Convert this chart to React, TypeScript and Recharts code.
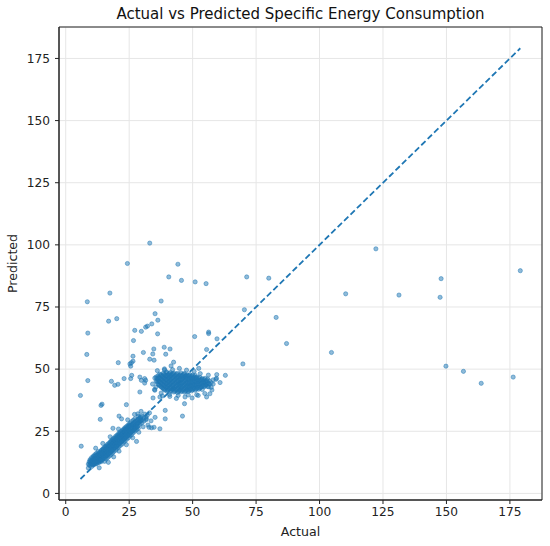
import React from "react";
import {
  ScatterChart,
  Scatter,
  XAxis,
  YAxis,
  CartesianGrid,
  ReferenceLine,
  ReferenceArea,
} from "recharts";

// [actual, predicted] pairs
const outlierPoints: [number, number][] = [
  [80.0, 86.6], [82.9, 70.8], [87.0, 60.3], [104.7, 56.7], [110.3, 80.3], [122.2, 98.4],
  [131.3, 79.8], [147.9, 86.4], [147.5, 78.9], [149.8, 51.2], [156.7, 49.1], [163.7, 44.3],
  [176.3, 46.8], [179.1, 89.6],
  [33.1, 100.7], [24.3, 92.5], [44.2, 92.2], [40.6, 87.1], [45.6, 85.7], [51.0, 85.1],
  [55.3, 84.4], [71.3, 87.1], [17.4, 80.6], [8.5, 77.1], [37.6, 77.4], [70.4, 73.9],
  [35.2, 72.3], [20.1, 70.3], [16.9, 69.3], [36.3, 69.7], [33.9, 68.2], [32.2, 67.3],
  [31.5, 66.9], [29.8, 65.2], [27.2, 65.6], [36.2, 64.2], [8.7, 64.5], [56.3, 64.9],
  [56.3, 64.3], [26.7, 61.5], [50.8, 63.1], [59.6, 62.2], [38.8, 58.8], [34.7, 58.1],
  [41.1, 58.1], [30.6, 56.7], [34.3, 56.1], [39.4, 56.0], [55.5, 57.9], [8.3, 55.9],
  [26.5, 55.2], [33.1, 54.0], [34.8, 53.6], [20.7, 52.6], [26.5, 53.2], [25.3, 52.1],
  [25.6, 51.2], [25.9, 52.6], [42.5, 52.8], [41.5, 51.3], [69.8, 52.1], [52.4, 50.3],
  [38.9, 49.7],
  [5.8, 39.4], [8.7, 45.4], [6.1, 19.0], [13.6, 29.8], [13.9, 35.4], [14.3, 35.9],
  [18.0, 45.1], [19.3, 43.5], [20.6, 43.9], [23.0, 46.2], [23.9, 35.7], [21.0, 31.1],
  [22.0, 30.0], [18.6, 26.2], [25.6, 46.2], [26.0, 47.5], [29.2, 40.8], [29.8, 45.5],
  [31.5, 45.5], [28.4, 32.0], [32.1, 31.4], [32.8, 26.6], [34.8, 26.6], [37.1, 26.0],
  [27.9, 20.9], [34.4, 38.4], [39.2, 33.4], [39.2, 30.0], [38.1, 39.2], [46.0, 31.1],
  [46.8, 36.1], [39.7, 48.9],
  [62.9, 47.5], [59.5, 47.8], [59.2, 45.9], [29.2, 46.8], [31.1, 46.2], [31.1, 44.4],
  [35.1, 46.4], [35.5, 42.8], [35.1, 41.5], [37.1, 38.8], [41.0, 39.0], [47.0, 38.8],
  [52.2, 39.4], [55.5, 38.8], [56.8, 40.1], [33.8, 26.4], [31.8, 30.0],
];

const lowBandPoints: [number, number][] = [
  [8.9, 10.2], [8.9, 11.8],
  [9.6, 12.5], [9.6, 11.1], [9.6, 13.6],
  [10.2, 11.9], [10.2, 13.0], [10.2, 14.4], [10.2, 10.8],
  [10.9, 12.3], [10.9, 13.8], [10.9, 11.4], [10.9, 15.0],
  [11.5, 12.9], [11.5, 14.2], [11.5, 11.8], [11.5, 15.6], [11.5, 13.4],
  [12.1, 12.2], [12.1, 13.5], [12.1, 14.8], [12.1, 16.1], [12.1, 11.9],
  [12.8, 13.1], [12.8, 14.3], [12.8, 15.7], [12.8, 12.6], [12.8, 16.8],
  [13.4, 13.8], [13.4, 15.0], [13.4, 16.4], [13.4, 12.9], [13.4, 14.2],
  [14.0, 14.5], [14.0, 15.9], [14.0, 13.2], [14.0, 17.3], [14.0, 12.8], [14.0, 16.5],
  [14.7, 15.2], [14.7, 16.6], [14.7, 13.9], [14.7, 18.0], [14.7, 14.8],
  [15.3, 15.8], [15.3, 14.1], [15.3, 17.2], [15.3, 12.9], [15.3, 18.6], [15.3, 16.3],
  [15.9, 16.4], [15.9, 14.9], [15.9, 17.9], [15.9, 13.8], [15.9, 19.1],
  [16.5, 16.9], [16.5, 15.5], [16.5, 18.4], [16.5, 14.4], [16.5, 19.8], [16.5, 17.6],
  [17.2, 17.5], [17.2, 16.1], [17.2, 19.0], [17.2, 15.0], [17.2, 20.3],
  [17.8, 18.2], [17.8, 16.8], [17.8, 19.7], [17.8, 15.6], [17.8, 21.1], [17.8, 17.9],
  [18.4, 18.8], [18.4, 17.3], [18.4, 20.4], [18.4, 16.2], [18.4, 21.7],
  [19.0, 19.4], [19.0, 18.0], [19.0, 21.0], [19.0, 16.9], [19.0, 22.3], [19.0, 20.1],
  [19.7, 20.1], [19.7, 18.6], [19.7, 21.6], [19.7, 17.4], [19.7, 23.0],
  [20.3, 20.7], [20.3, 19.2], [20.3, 22.3], [20.3, 18.1], [20.3, 23.5], [20.3, 21.4],
  [20.9, 21.3], [20.9, 19.9], [20.9, 22.8], [20.9, 18.7], [20.9, 24.2],
  [21.5, 21.8], [21.5, 20.5], [21.5, 23.4], [21.5, 19.3], [21.5, 24.8], [21.5, 22.2],
  [22.2, 22.5], [22.2, 21.1], [22.2, 24.0], [22.2, 19.8], [22.2, 25.3],
  [22.8, 23.1], [22.8, 21.7], [22.8, 24.6], [22.8, 20.6], [22.8, 25.9], [22.8, 22.6],
  [23.4, 23.7], [23.4, 22.3], [23.4, 25.2], [23.4, 21.1], [23.4, 26.5],
  [24.0, 24.3], [24.0, 22.9], [24.0, 25.8], [24.0, 21.8], [24.0, 27.0], [24.0, 24.9],
  [24.7, 24.9], [24.7, 23.5], [24.7, 26.4], [24.7, 22.4], [24.7, 27.6],
  [25.3, 25.5], [25.3, 24.1], [25.3, 27.0], [25.3, 23.1], [25.3, 28.2],
  [25.9, 26.1], [25.9, 24.8], [25.9, 27.5], [25.9, 23.6], [25.9, 28.9],
  [26.6, 26.7], [26.6, 25.3], [26.6, 28.1], [26.6, 24.4], [26.6, 29.4],
  [27.2, 27.3], [27.2, 26.0], [27.2, 28.6], [27.2, 25.0], [27.2, 30.0],
  [27.9, 27.8], [27.9, 26.6], [27.9, 29.2], [27.9, 25.7],
  [28.6, 28.4], [28.6, 27.2], [28.6, 29.8], [28.6, 26.2], [28.6, 31.0],
  [29.3, 29.0], [29.3, 27.9], [29.3, 30.4],
  [30.0, 29.6], [30.0, 28.4], [30.0, 31.1],
  [30.8, 30.2], [30.8, 29.1],
  [31.6, 30.7], [31.6, 29.6],
  [11.8, 18.2], [13.2, 10.3], [16.8, 12.5], [18.9, 14.7], [21.0, 17.0], [23.9, 19.6],
  [26.4, 22.4], [28.8, 24.6], [30.5, 26.8], [32.4, 27.5], [33.6, 29.2], [14.6, 20.1],
  [17.5, 22.8], [20.8, 25.9], [24.4, 29.6], [27.1, 31.8], [29.7, 33.0], [31.2, 31.9],
  [33.0, 32.4], [35.2, 30.6],
];

const lowBandInnerPoints: [number, number][] = [
  [9.3, 11.5], [9.3, 12.8],
  [9.9, 12.0], [9.9, 13.3],
  [10.6, 11.6], [10.6, 12.9], [10.6, 14.1],
  [11.2, 12.1], [11.2, 13.6], [11.2, 14.8],
  [11.8, 12.6], [11.8, 13.9], [11.8, 15.2],
  [12.4, 12.9], [12.4, 14.2], [12.4, 15.4], [12.4, 13.0],
  [13.1, 13.5], [13.1, 14.7], [13.1, 16.0], [13.1, 12.4],
  [13.7, 14.1], [13.7, 15.4], [13.7, 16.8], [13.7, 13.5],
  [14.4, 14.8], [14.4, 16.1], [14.4, 17.5], [14.4, 13.6],
  [15.0, 15.4], [15.0, 16.8], [15.0, 14.5], [15.0, 17.8],
  [15.6, 16.0], [15.6, 17.4], [15.6, 15.2], [15.6, 18.4],
  [16.2, 16.6], [16.2, 18.0], [16.2, 15.4], [16.2, 19.1],
  [16.9, 17.2], [16.9, 18.7], [16.9, 16.0], [16.9, 19.4],
  [17.5, 17.8], [17.5, 19.2], [17.5, 16.5], [17.5, 20.5],
  [18.1, 18.4], [18.1, 19.9], [18.1, 17.1], [18.1, 20.9],
  [18.7, 19.1], [18.7, 20.6], [18.7, 17.8], [18.7, 21.5],
  [19.4, 19.7], [19.4, 21.2], [19.4, 18.4], [19.4, 22.2],
  [20.0, 20.3], [20.0, 21.8], [20.0, 19.0], [20.0, 22.7],
  [20.6, 20.9], [20.6, 22.4], [20.6, 19.6], [20.6, 23.3],
  [21.2, 21.5], [21.2, 22.9], [21.2, 20.2], [21.2, 24.0],
  [21.9, 22.1], [21.9, 23.6], [21.9, 20.8], [21.9, 24.5],
  [22.5, 22.7], [22.5, 24.2], [22.5, 21.4], [22.5, 25.1],
  [23.1, 23.3], [23.1, 24.8], [23.1, 22.0], [23.1, 25.7],
  [23.7, 23.9], [23.7, 25.4], [23.7, 22.6], [23.7, 26.2],
  [24.4, 24.5], [24.4, 26.0], [24.4, 23.2], [24.4, 26.8],
  [25.0, 25.1], [25.0, 26.6], [25.0, 23.8], [25.0, 27.4],
  [25.6, 25.7], [25.6, 27.2], [25.6, 24.5],
  [26.2, 26.3], [26.2, 27.8], [26.2, 25.0],
  [26.9, 26.9], [26.9, 28.3], [26.9, 25.6],
  [27.5, 27.5], [27.5, 28.9], [27.5, 26.3],
  [28.2, 28.1], [28.2, 29.5], [28.2, 26.9],
  [28.9, 28.7], [28.9, 30.1],
  [29.6, 29.3], [29.6, 30.7],
];

const midClusterPoints: [number, number][] = [
  [35.6, 45.2], [35.6, 46.8],
  [36.3, 44.1], [36.3, 45.8], [36.3, 47.3],
  [37.0, 43.5], [37.0, 45.0], [37.0, 46.5], [37.0, 48.0],
  [37.7, 42.8], [37.7, 44.4], [37.7, 45.9], [37.7, 47.4],
  [38.4, 42.2], [38.4, 43.7], [38.4, 45.3], [38.4, 46.8], [38.4, 48.3],
  [39.1, 41.6], [39.1, 43.1], [39.1, 44.6], [39.1, 46.1], [39.1, 47.6],
  [39.8, 42.4], [39.8, 43.9], [39.8, 45.5], [39.8, 47.0], [39.8, 48.5], [39.8, 41.2],
  [40.5, 41.8], [40.5, 43.3], [40.5, 44.8], [40.5, 46.3], [40.5, 47.8],
  [41.2, 41.0], [41.2, 42.6], [41.2, 44.1], [41.2, 45.7], [41.2, 47.2], [41.2, 48.6],
  [41.9, 41.9], [41.9, 43.4], [41.9, 44.9], [41.9, 46.5], [41.9, 48.0],
  [42.6, 40.8], [42.6, 42.3], [42.6, 43.8], [42.6, 45.3], [42.6, 46.9], [42.6, 48.4],
  [43.3, 41.5], [43.3, 43.0], [43.3, 44.5], [43.3, 46.1], [43.3, 47.6],
  [44.0, 40.6], [44.0, 42.1], [44.0, 43.7], [44.0, 45.2], [44.0, 46.7], [44.0, 48.3],
  [44.7, 41.3], [44.7, 42.8], [44.7, 44.3], [44.7, 45.9], [44.7, 47.4],
  [45.4, 40.9], [45.4, 42.4], [45.4, 43.9], [45.4, 45.5], [45.4, 47.0], [45.4, 48.5],
  [46.1, 41.6], [46.1, 43.1], [46.1, 44.6], [46.1, 46.2], [46.1, 47.7],
  [46.8, 40.7], [46.8, 42.2], [46.8, 43.7], [46.8, 45.3], [46.8, 46.8], [46.8, 48.2],
  [47.5, 41.4], [47.5, 42.9], [47.5, 44.4], [47.5, 45.9], [47.5, 47.4],
  [48.2, 41.0], [48.2, 42.5], [48.2, 44.0], [48.2, 45.6], [48.2, 47.1],
  [48.9, 41.7], [48.9, 43.2], [48.9, 44.7], [48.9, 46.3], [48.9, 47.8],
  [49.6, 41.3], [49.6, 42.8], [49.6, 44.3], [49.6, 45.8], [49.6, 47.2],
  [50.3, 42.0], [50.3, 43.5], [50.3, 45.0], [50.3, 46.5],
  [51.0, 41.5], [51.0, 43.0], [51.0, 44.6], [51.0, 46.1], [51.0, 47.5],
  [51.7, 42.3], [51.7, 43.8], [51.7, 45.3], [51.7, 46.8],
  [52.4, 41.9], [52.4, 43.4], [52.4, 44.9], [52.4, 46.3],
  [53.1, 42.6], [53.1, 44.1], [53.1, 45.6],
  [53.8, 43.2], [53.8, 44.7], [53.8, 46.2], [53.8, 41.8],
  [54.5, 42.9], [54.5, 44.4], [54.5, 45.8],
  [55.2, 43.6], [55.2, 45.1],
  [55.9, 43.0], [55.9, 44.6], [55.9, 46.0],
  [56.6, 43.9], [56.6, 45.3],
  [57.3, 44.5], [57.3, 42.7],
  [58.1, 44.0], [58.1, 45.7],
  [34.2, 44.0], [35.0, 41.8], [36.1, 49.4], [38.9, 50.1], [42.1, 49.8], [44.8, 50.3],
  [47.6, 49.6], [50.6, 49.1], [53.0, 48.2], [56.2, 47.6], [59.4, 46.3], [60.8, 44.6],
  [57.6, 41.6], [54.8, 40.2], [51.6, 39.7], [48.3, 39.6], [44.3, 39.4], [40.9, 39.8],
  [37.6, 40.4], [43.6, 38.2], [49.8, 38.4],
];

const midClusterInnerPoints: [number, number][] = [
  [36.0, 44.9], [36.0, 46.3],
  [36.7, 43.6], [36.7, 45.1], [36.7, 46.6],
  [37.4, 43.1], [37.4, 44.7], [37.4, 46.2], [37.4, 47.7],
  [38.1, 42.5], [38.1, 44.0], [38.1, 45.6], [38.1, 47.1],
  [38.8, 41.9], [38.8, 43.4], [38.8, 44.9], [38.8, 46.4], [38.8, 47.9],
  [39.5, 42.7], [39.5, 44.2], [39.5, 45.8], [39.5, 47.3],
  [40.2, 41.5], [40.2, 43.0], [40.2, 44.5], [40.2, 46.0], [40.2, 47.5],
  [40.9, 42.2], [40.9, 43.7], [40.9, 45.3], [40.9, 46.8], [40.9, 48.2],
  [41.6, 41.4], [41.6, 42.9], [41.6, 44.5], [41.6, 46.0], [41.6, 47.6],
  [42.3, 42.0], [42.3, 43.5], [42.3, 45.0], [42.3, 46.6], [42.3, 48.1],
  [43.0, 41.1], [43.0, 42.6], [43.0, 44.2], [43.0, 45.7], [43.0, 47.2],
  [43.7, 41.8], [43.7, 43.3], [43.7, 44.9], [43.7, 46.4], [43.7, 47.9],
  [44.4, 41.0], [44.4, 42.5], [44.4, 44.0], [44.4, 45.5], [44.4, 47.1],
  [45.1, 41.7], [45.1, 43.2], [45.1, 44.7], [45.1, 46.2], [45.1, 47.7],
  [45.8, 41.2], [45.8, 42.7], [45.8, 44.3], [45.8, 45.8], [45.8, 47.3],
  [46.5, 41.9], [46.5, 43.4], [46.5, 44.9], [46.5, 46.5], [46.5, 48.0],
  [47.2, 41.1], [47.2, 42.6], [47.2, 44.1], [47.2, 45.6], [47.2, 47.1],
  [47.9, 41.8], [47.9, 43.3], [47.9, 44.8], [47.9, 46.3], [47.9, 47.7],
  [48.6, 41.4], [48.6, 42.9], [48.6, 44.4], [48.6, 45.9], [48.6, 47.4],
  [49.3, 42.1], [49.3, 43.6], [49.3, 45.1], [49.3, 46.6],
  [50.0, 41.7], [50.0, 43.2], [50.0, 44.7], [50.0, 46.2], [50.0, 47.6],
  [50.7, 42.4], [50.7, 43.9], [50.7, 45.4], [50.7, 46.9],
  [51.4, 42.0], [51.4, 43.5], [51.4, 45.0], [51.4, 46.5],
  [52.1, 42.7], [52.1, 44.2], [52.1, 45.7],
  [52.8, 42.3], [52.8, 43.8], [52.8, 45.3], [52.8, 46.7],
  [53.5, 42.9], [53.5, 44.4], [53.5, 45.9],
  [54.2, 43.5], [54.2, 45.1],
  [54.9, 43.2], [54.9, 44.8], [54.9, 46.3],
  [55.6, 43.9], [55.6, 45.4],
  [56.3, 44.2], [56.3, 42.9],
];

const tickValues = [0, 25, 50, 75, 100, 125, 150, 175];
const axisDomain: [number, number] = [-2.65, 187.65];

const allPoints = [
  ...outlierPoints,
  ...lowBandPoints,
  ...lowBandInnerPoints,
  ...midClusterPoints,
  ...midClusterInnerPoints,
];
const scatterData = allPoints.map(([actual, predicted]) => ({ actual, predicted }));
const actualValues = allPoints.map((p) => p[0]);
const lineMin = Math.min(...actualValues);
const lineMax = Math.max(...actualValues);

const BLUE = "#1f77b4";
const FONT = "DejaVu Sans, sans-serif";

const Dot = (props: any) => {
  const { cx, cy } = props;
  if (cx == null || cy == null) return null;
  return (
    <circle
      cx={cx}
      cy={cy}
      r={2.1}
      fill={BLUE}
      fillOpacity={0.5}
      stroke={BLUE}
      strokeOpacity={0.55}
      strokeWidth={0.9}
    />
  );
};

export default function App() {
  return (
    <div
      style={{
        position: "absolute",
        left: 0,
        top: 0,
        width: 550,
        height: 546,
        background: "#fff",
        fontFamily: FONT,
      }}
    >
      <div
        style={{
          position: "absolute",
          left: 59,
          width: 483,
          top: 4,
          textAlign: "center",
          fontSize: 15,
          lineHeight: "20px",
          color: "#111",
          fontFamily: FONT,
        }}
      >
        Actual vs Predicted Specific Energy Consumption
      </div>
      <ScatterChart
        width={550}
        height={546}
        margin={{ top: 27, right: 8, left: 0, bottom: 0 }}
      >
        <CartesianGrid stroke="#e6e6e6" strokeWidth={1} />
        <XAxis
          type="number"
          dataKey="actual"
          domain={axisDomain}
          ticks={tickValues}
          allowDataOverflow
          height={46}
          tickSize={4}
          tickMargin={3}
          axisLine={{ stroke: "#222" }}
          tickLine={{ stroke: "#222" }}
          tick={{ fill: "#222", fontSize: 12.2, fontFamily: FONT }}
          label={{
            value: "Actual",
            position: "insideBottom",
            offset: 10,
            style: { fill: "#222", fontSize: 12.6, fontFamily: FONT },
          }}
        />
        <YAxis
          type="number"
          dataKey="predicted"
          domain={axisDomain}
          ticks={tickValues}
          allowDataOverflow
          width={59}
          tickSize={4}
          tickMargin={5}
          axisLine={{ stroke: "#222" }}
          tickLine={{ stroke: "#222" }}
          tick={{ fill: "#222", fontSize: 12.2, fontFamily: FONT }}
          label={{
            value: "Predicted",
            angle: -90,
            position: "insideLeft",
            offset: 13,
            style: { fill: "#222", fontSize: 12.6, fontFamily: FONT, textAnchor: "middle" },
          }}
        />
        <Scatter
          data={scatterData}
          shape={<Dot />}
          isAnimationActive={false}
        />
        <ReferenceLine
          segment={[
            { x: lineMin, y: lineMin },
            { x: lineMax, y: lineMax },
          ]}
          stroke={BLUE}
          strokeWidth={1.8}
          strokeDasharray="6 3"
          ifOverflow="visible"
        />
        <ReferenceArea
          x1={axisDomain[0]}
          x2={axisDomain[1]}
          y1={axisDomain[0]}
          y2={axisDomain[1]}
          fill="none"
          fillOpacity={0}
          stroke="#222"
          strokeWidth={1}
          ifOverflow="visible"
        />
      </ScatterChart>
    </div>
  );
}
